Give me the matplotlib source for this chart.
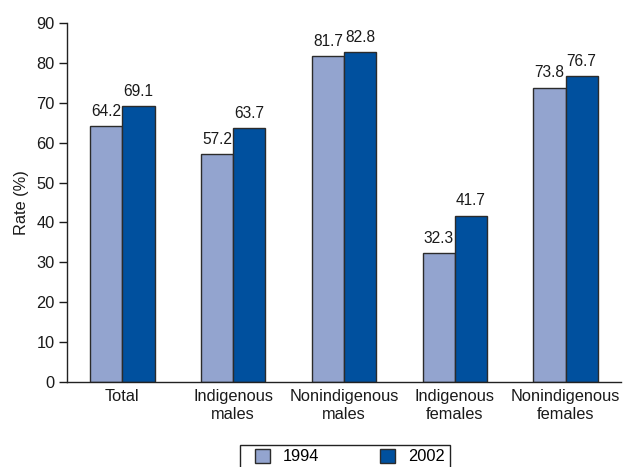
import matplotlib
matplotlib.use("Agg")
import matplotlib.pyplot as plt
import numpy as np
from matplotlib.patches import Patch, Rectangle

categories = ["Total", "Indigenous\nmales", "Nonindigenous\nmales", "Indigenous\nfemales", "Nonindigenous\nfemales"]
series_names = ["1994", "2002"]
v1994 = [64.2, 57.2, 81.7, 32.3, 73.8]
v2002 = [69.1, 63.7, 82.8, 41.7, 76.7]
yticks = [0, 10, 20, 30, 40, 50, 60, 70, 80, 90]

plt.rcParams['font.family'] = ['Liberation Sans Narrow', 'Liberation Sans', 'DejaVu Sans']
fs = 11.8
plt.rcParams['font.size'] = fs

c1 = '#93a4cf'
c2 = '#00509e'
ec = '#2b2b2b'
tc = '#1a1a1a'

fig = plt.figure(figsize=(6.26, 4.67), dpi=100)
ax = fig.add_axes([67/626, 1-382/467, (621-67)/626, (382-23)/467])

x = np.arange(len(categories))
w = 0.29
b1 = ax.bar(x - w/2, v1994, w, color=c1, edgecolor=ec, linewidth=1.0, label=series_names[0])
b2 = ax.bar(x + w/2, v2002, w, color=c2, edgecolor=ec, linewidth=1.0, label=series_names[1])
for bars, vals in ((b1, v1994), (b2, v2002)):
    for r, v in zip(bars, vals):
        ax.text(r.get_x() + r.get_width()/2, v + 1.8, f"{v:.1f}", ha='center', va='bottom', fontsize=11.2, color=tc)

ax.set_xlim(-0.5, len(categories) - 0.5)
ax.set_ylim(0, 90)
ax.set_yticks(yticks)
ax.set_xticks(x)
ax.set_xticklabels(categories, linespacing=1.25)
ax.tick_params(axis='x', length=0, pad=5, colors=tc)
ax.tick_params(axis='y', length=6, width=1, colors=tc, pad=3)
ax.set_ylabel("Rate (%)", color=tc, labelpad=5)
for s in ('top', 'right'):
    ax.spines[s].set_visible(False)
for s in ('left', 'bottom'):
    ax.spines[s].set_color('#222222')
    ax.spines[s].set_linewidth(1)

# legend frame (extends past bottom edge as in the reference)
fig.patches.append(Rectangle((240/626, -0.05), (450-240)/626, (1-445/467) + 0.05,
                             transform=fig.transFigure, fill=False, edgecolor='#222222', linewidth=1))
handles = [Patch(facecolor=c1, edgecolor=ec), Patch(facecolor=c2, edgecolor=ec)]
leg = fig.legend(handles, series_names, loc='upper left', bbox_to_anchor=(255/626, 1-449/467),
                 ncol=2, frameon=False, borderaxespad=0, borderpad=0, handlelength=0.9,
                 handleheight=0.9, columnspacing=3.7, handletextpad=0.8, fontsize=fs)

fig.savefig("out.png", dpi=100)
